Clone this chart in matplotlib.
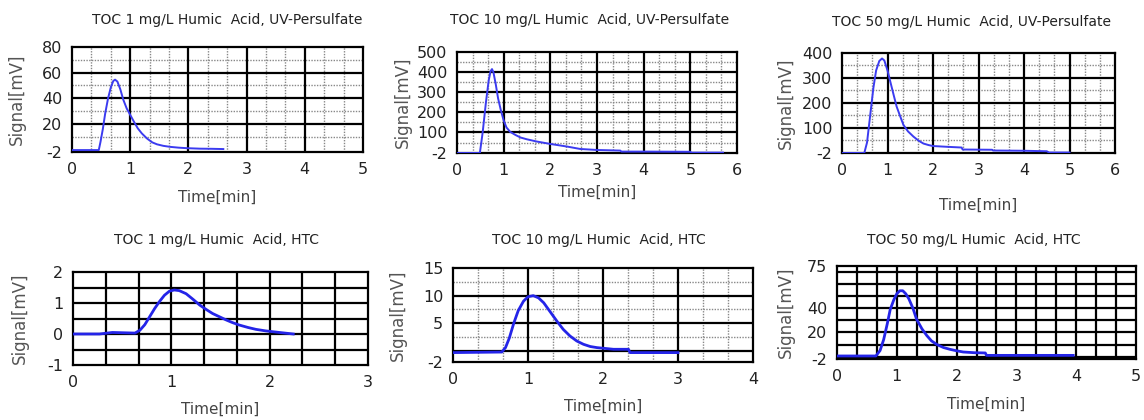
import numpy as np
import matplotlib
matplotlib.use('Agg')
import matplotlib.pyplot as plt

W, H = 1144, 420

# ---- data ----
t_uv1 = [0, 0.46, 0.49, 0.53, 0.57, 0.62, 0.67, 0.71, 0.74, 0.78, 0.83, 0.88, 0.94, 1.0,
         1.06, 1.13, 1.2, 1.29, 1.38, 1.46, 1.57, 1.69, 1.83, 1.97, 2.2, 2.4, 2.6]
s_uv1 = [-0.5, -0.5, 6, 16, 28, 40, 49, 53.5, 54.5, 53, 47, 39, 32, 27,
         22, 16.5, 12.5, 8.5, 5.5, 4, 2.8, 2, 1.4, 1, 0.6, 0.5, 0.3]

t_uv10 = [0, 0.49, 0.55, 0.62, 0.68, 0.72, 0.75, 0.78, 0.83, 0.88, 0.94, 1.0, 1.06, 1.14,
          1.25, 1.36, 1.5, 1.71, 2.0, 2.36, 2.64, 3.0, 3.5, 3.52, 4.0, 5.0, 5.02, 5.7]
s_uv10 = [-2, -2, 100, 250, 360, 405, 415, 400, 340, 270, 210, 160, 125, 103,
          88, 75, 66, 55, 43, 30, 18, 13, 10, 5, 5, 4, 0, 0]

t_uv50 = [0, 0.49, 0.55, 0.62, 0.69, 0.75, 0.82, 0.88, 0.93, 1.0, 1.06, 1.13, 1.2, 1.28,
          1.35, 1.45, 1.57, 1.68, 1.79, 1.9, 2.0, 2.3, 2.63, 2.65, 3.3, 3.32, 4.0, 4.5,
          4.55, 5.0]
s_uv50 = [-2, -2, 40, 150, 260, 330, 368, 378, 370, 330, 286, 235, 185, 145,
          111, 85, 64, 48, 36, 30, 26, 23, 20, 12, 11, 8, 7, 5,
          0, 0]

t_htc1 = [0, 0.27, 0.4, 0.63, 0.68, 0.73, 0.78, 0.83, 0.88, 0.93, 0.98, 1.03, 1.08, 1.15,
          1.22, 1.29, 1.36, 1.42, 1.5, 1.56, 1.62, 1.69, 1.78, 1.86, 1.96, 2.07, 2.24]
s_htc1 = [0, 0, 0.05, 0.03, 0.12, 0.3, 0.56, 0.82, 1.05, 1.25, 1.38, 1.42, 1.4, 1.3,
          1.12, 0.93, 0.78, 0.66, 0.54, 0.45, 0.37, 0.29, 0.21, 0.15, 0.1, 0.06, 0]

t_htc10 = [0, 0.65, 0.7, 0.75, 0.81, 0.87, 0.94, 1.0, 1.07, 1.14, 1.21, 1.3, 1.39, 1.47,
           1.56, 1.65, 1.74, 1.83, 1.92, 2.14, 2.34, 2.36, 3.0]
s_htc10 = [-0.3, -0.2, 0.6, 2.3, 5.0, 7.3, 9.0, 9.8, 10.0, 9.6, 8.7, 7.0, 5.3, 3.9,
           2.7, 1.8, 1.2, 0.8, 0.6, 0.3, 0.3, -0.3, -0.3]

t_htc50 = [0, 0.65, 0.72, 0.78, 0.84, 0.89, 0.95, 1.0, 1.05, 1.1, 1.15, 1.2, 1.27, 1.33,
           1.42, 1.5, 1.58, 1.67, 1.78, 1.89, 2.0, 2.11, 2.3, 2.48, 2.5, 3.95]
s_htc50 = [0.5, 0.5, 5, 14, 27, 39, 47, 52, 54.5, 54.5, 52, 48, 40, 31,
           23, 17.5, 13, 10, 7.5, 6, 4.8, 3.8, 3.2, 3, 1, 1]

titles = ['TOC 1 mg/L Humic  Acid, UV-Persulfate',
          'TOC 10 mg/L Humic  Acid, UV-Persulfate',
          'TOC 50 mg/L Humic  Acid, UV-Persulfate',
          'TOC 1 mg/L Humic  Acid, HTC',
          'TOC 10 mg/L Humic  Acid, HTC',
          'TOC 50 mg/L Humic  Acid, HTC']

plt.rcParams['font.family'] = ['DejaVu Sans']
plt.rcParams['axes.unicode_minus'] = False
fig = plt.figure(figsize=(W / 100, H / 100), dpi=100)


def px_axes(x0, y0, x1, y1):
    return fig.add_axes([x0 / W, 1 - y1 / H, (x1 - x0) / W, (y1 - y0) / H])


def panel(box, t, s, xlim, ylim, yticks, major_x, major_y, minor_x, minor_y,
          title, title_xy, ylab_x, xlab_y, lw, color):
    ax = px_axes(*box)
    for v in minor_x:
        ax.axvline(v, color='#888888', lw=1.0, ls=(0, (1, 1)), zorder=1)
    for v in minor_y:
        ax.axhline(v, color='#888888', lw=1.0, ls=(0, (1, 1)), zorder=1)
    for v in major_x:
        ax.axvline(v, color='black', lw=1.6, zorder=2)
    for v in major_y:
        ax.axhline(v, color='black', lw=1.6, zorder=2)
    ax.plot(t, s, color=color, lw=lw, zorder=3)
    ax.set_xlim(*xlim)
    ax.set_ylim(*ylim)
    ax.set_xticks(range(int(xlim[0]), int(xlim[1]) + 1))
    ax.set_yticks(yticks)
    ax.tick_params(length=0, labelsize=11.5, colors='#222222', pad=7)
    for sp in ax.spines.values():
        sp.set_linewidth(1.6)
        sp.set_color('black')
    fig.text(title_xy[0] / W, 1 - title_xy[1] / H, title, ha='center', va='center',
             fontsize=10, color='#222222')
    fig.text(ylab_x / W, 1 - (box[1] + box[3]) / 2 / H, 'Signal[mV]', rotation=90,
             ha='center', va='center', fontsize=12, color='#555555')
    fig.text((box[0] + box[2]) / 2 / W, 1 - xlab_y / H, 'Time[min]', ha='center',
             va='center', fontsize=11, color='#444444')
    return ax


thirds5 = [i / 3 for i in range(1, 15) if i % 3]
thirds6 = [i / 3 for i in range(1, 18) if i % 3]

panel((72, 47, 363, 152), t_uv1, s_uv1, (0, 5), (-2, 80), [-2, 20, 40, 60, 80],
      [1, 2, 3, 4], [20, 40, 60], thirds5, [10, 30, 50, 70],
      titles[0], (227, 20), 17, 197, 1.4, '#3b3bf0')

panel((457, 52, 737, 153), t_uv10, s_uv10, (0, 6), (-2, 500), [-2, 100, 200, 300, 400, 500],
      [1, 2, 3, 4, 5], [100, 200, 300, 400], thirds6, [50, 150, 250, 350, 450],
      titles[1], (590, 20), 403, 192, 1.4, '#3b3bf0')

panel((842, 53, 1115, 153), t_uv50, s_uv50, (0, 6), (-2, 400), [-2, 100, 200, 300, 400],
      [1, 2, 3, 4, 5], [100, 200, 300], thirds6, [50, 150, 250, 350],
      titles[2], (972, 22), 786, 205, 1.4, '#3b3bf0')

panel((73, 272, 368, 365), t_htc1, s_htc1, (0, 3), (-1, 2), [-1, 0, 1, 2],
      [i / 3 for i in range(1, 9)], [-0.5, 0, 0.5, 1, 1.5], [], [],
      titles[3], (216, 240), 20, 409, 2.0, '#2424e8')

panel((453, 268, 753, 362), t_htc10, s_htc10, (0, 4), (-2, 15), [-2, 5, 10, 15],
      [1, 2, 3], [0, 5, 10], [i / 3 for i in range(1, 12) if i % 3], [2.5, 7.5, 12.5],
      titles[4], (599, 240), 398, 406, 2.0, '#2424e8')

panel((837, 266, 1136, 359), t_htc50, s_htc50, (0, 5), (-2, 75), [-2, 20, 40, 75],
      [i / 3 for i in range(1, 15)], list(range(0, 71, 10)), [], [],
      titles[5], (974, 240), 786, 404, 2.0, '#2424e8')

plt.savefig('out.png', dpi=100)
